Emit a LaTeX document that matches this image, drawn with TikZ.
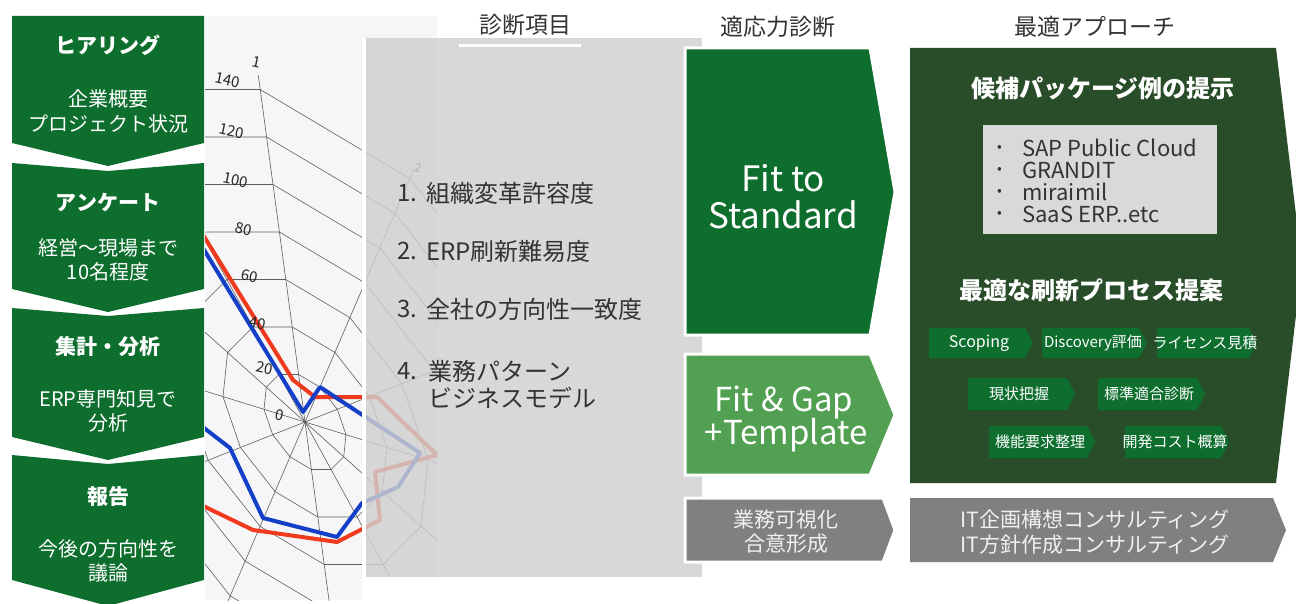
\documentclass[tikz,border=0pt]{standalone}
\usepackage{fontspec}
\setmainfont{Noto Sans CJK JP}
\definecolor{gMain}{HTML}{0E6E2E}
\definecolor{gDark}{HTML}{294D29}
\definecolor{gLight}{HTML}{52A052}
\definecolor{greyArr}{HTML}{808080}
\definecolor{panelC}{HTML}{D0D0D0}
\definecolor{pkgC}{HTML}{D9D9D9}
\definecolor{txtC}{HTML}{333333}
\definecolor{photoC}{HTML}{F6F6F8}
\definecolor{webC}{HTML}{5E5E5E}
\definecolor{redL}{HTML}{F03A1E}
\definecolor{blueL}{HTML}{1440C8}
\newcommand\fsz[1]{\fontsize{#1}{#1}\selectfont}
\begin{document}
\begin{tikzpicture}[x=1pt,y=-1pt,
  wt/.style={text=white, inner sep=0pt, align=center},
  tt/.style={text=txtC, inner sep=0pt, font=\fsz{23}},
  lst/.style={text=txtC, inner sep=0pt, anchor=west, font=\fsz{24}},
  web/.style={draw=webC, line width=0.6pt},
  lbl/.style={text=black!85, inner sep=0pt, font=\fsz{15}, rotate=-12},
  dataln/.style={line width=4pt, line join=round},
  chev/.style={fill=gMain},
  ctext/.style={text=white, inner sep=0pt, font=\fsz{15}},
  bul/.style={text=txtC, inner sep=0pt, anchor=west, font=\fsz{22}}]
\useasboundingbox (0,0) rectangle (1296,604);
\fill[white] (0,0) rectangle (1296,604);

% ---------- radar chart photo ----------
\begin{scope}
  \clip (205,16) rectangle (437,600);
  \fill[photoC] (205,16) rectangle (437,600);
  \begin{scope}[shift={(305,422)}, x={(41pt,-12.7pt)}, y={(-6.4pt,47.5pt)}]
    \foreach \i in {1,...,7} {
      \draw[web] (0,\i) \foreach \k in {1,...,11} { -- ({\i*cos(90-30*\k)},{\i*sin(90-30*\k)}) } -- cycle;
    }
    \foreach \k in {0,...,11} \draw[web] (0,0) -- ({7.3*cos(90-30*\k)},{7.3*sin(90-30*\k)});
  \end{scope}
  \draw[dataln, redL] (195,222) -- (293,380) -- (315,397) -- (377,397) -- (437,455) -- (375,472) -- (380,520) -- (337,542) -- (253,530) -- (195,502);
  \draw[dataln, blueL] (195,235) -- (303,412) -- (320,387) -- (420,453) -- (398,487) -- (362,503) -- (337,537) -- (263,518) -- (230,448) -- (195,421);
  \node[lbl] (s140) at (228,80) {140};
  \node[lbl] (s120) at (232,131) {120};
  \node[lbl] (s100) at (236,180) {100};
  \node[lbl] (s80) at (244,229) {80};
  \node[lbl] (s60) at (250,276) {60};
  \node[lbl] (s40) at (258,323) {40};
  \node[lbl] (s20) at (265,368) {20};
  \node[lbl] (s0) at (280,415) {0};
  \node[lbl] (ax1) at (257,62) {1};
  \node[lbl, font=\fsz{12}] (ax2) at (418,168) {2};
\end{scope}
\fill[white] (362,38) rectangle (366,600);
\fill[white] (366,577) rectangle (440,604);

% ---------- grey panel (diagnosis items) ----------
\fill[panelC, fill opacity=0.82] (366,38) rectangle (702,577);
\draw[white, line width=3pt] (459,46) -- (581,46);
\node[tt] (t1) at (525,25) {診断項目};
\node[tt] (t2) at (778,27) {適応力診断};
\node[tt] (t3) at (1095,27) {最適アプローチ};

\node[lst] (n1) at (397,193) {1.};
\node[lst] (l1) at (426,193) {組織変革許容度};
\node[lst] (n2) at (397,251) {2.};
\node[lst] (l2) at (426,251) {ERP刷新難易度};
\node[lst] (n3) at (397,309) {3.};
\node[lst] (l3) at (426,309) {全社の方向性一致度};
\node[lst] (n4) at (397,371) {4.};
\node[lst] (l4) at (428,371) {業務パターン};
\node[lst] (l4b) at (428,398) {ビジネスモデル};

% ---------- left process chevrons ----------
\fill[gMain] (12,16) -- (204,16) -- (204,143) -- (108,166) -- (12,143) -- cycle;
\fill[gMain] (12,163) -- (108,171) -- (204,163) -- (204,289) -- (108,312) -- (12,289) -- cycle;
\fill[gMain] (12,308) -- (108,316) -- (204,308) -- (204,437) -- (108,460) -- (12,437) -- cycle;
\fill[gMain] (12,455) -- (108,464) -- (204,455) -- (204,580) -- (108,606) -- (12,580) -- cycle;
\node[wt, font=\fsz{21}\bfseries] (b1h) at (108,45) {ヒアリング};
\node[wt, font=\fsz{20}] (b1a) at (108,99) {企業概要};
\node[wt, font=\fsz{20}] (b1b) at (108,124) {プロジェクト状況};
\node[wt, font=\fsz{21}\bfseries] (b2h) at (108,203) {アンケート};
\node[wt, font=\fsz{20}] (b2a) at (108,248) {経営～現場まで};
\node[wt, font=\fsz{20}] (b2b) at (108,272) {10名程度};
\node[wt, font=\fsz{21}\bfseries] (b3h) at (108,347) {集計・分析};
\node[wt, font=\fsz{20}] (b3a) at (108,399) {ERP専門知見で};
\node[wt, font=\fsz{20}] (b3b) at (108,423) {分析};
\node[wt, font=\fsz{21}\bfseries] (b4h) at (108,497) {報告};
\node[wt, font=\fsz{20}] (b4a) at (108,549) {今後の方向性を};
\node[wt, font=\fsz{20}] (b4b) at (108,573) {議論};

% ---------- middle arrows ----------
\filldraw[fill=gMain, draw=white, line width=3pt, line join=miter] (685,48) -- (870,48) -- (895,192) -- (870,335) -- (685,335) -- cycle;
\filldraw[fill=gLight, draw=white, line width=3pt] (685,354) -- (870,354) -- (895,415) -- (870,475) -- (685,475) -- cycle;
\filldraw[fill=greyArr, draw=white, line width=3pt] (685,498) -- (883,498) -- (895,530) -- (883,562) -- (685,562) -- cycle;
\node[wt, font=\fsz{35}] (fs1) at (783,178) {Fit to};
\node[wt, font=\fsz{35}] (fs2) at (783,215) {Standard};
\node[wt, font=\fsz{33}] (fg1) at (784,402) {Fit \& Gap};
\node[wt, font=\fsz{33}] (fg2) at (786,435) {+Template};
\node[wt, font=\fsz{21}, text=white!94!black] (gy1) at (786,520) {業務可視化};
\node[wt, font=\fsz{21}, text=white!94!black] (gy2) at (786,544) {合意形成};

% ---------- right panel ----------
\fill[gDark] (910,48) -- (1276,48) -- (1302,265) -- (1276,483) -- (910,483) -- cycle;
\fill[greyArr] (910,498) -- (1273,498) -- (1286,530) -- (1273,562) -- (910,562) -- cycle;
\node[wt, font=\fsz{21}, text=white!94!black] (it1) at (1095,519) {IT企画構想コンサルティング};
\node[wt, font=\fsz{21}, text=white!94!black] (it2) at (1095,545) {IT方針作成コンサルティング};

\node[wt, font=\fsz{24}\bfseries] (pk) at (1103,88) {候補パッケージ例の提示};
\fill[pkgC] (983,125) rectangle (1217,234);
\node[bul, font=\fsz{14}] (d1) at (997,148) {•};
\node[bul, font=\fsz{14}] (d2) at (997,170) {•};
\node[bul, font=\fsz{14}] (d3) at (997,192) {•};
\node[bul, font=\fsz{14}] (d4) at (997,214) {•};
\node[bul] (p1) at (1022,148) {SAP Public Cloud};
\node[bul] (p2) at (1022,170) {GRANDIT};
\node[bul] (p3) at (1022,192) {miraimil};
\node[bul] (p4) at (1022,214) {SaaS ERP..etc};

\node[wt, font=\fsz{24}\bfseries] (pr) at (1091,290) {最適な刷新プロセス提案};

\fill[chev] (929,328) -- (1025,328) -- (1033,343) -- (1025,358) -- (929,358) -- cycle;
\node[ctext, font=\fsz{16}] (c1) at (979,343) {Scoping};
\fill[chev] (1042,328) -- (1139,328) -- (1147,343) -- (1139,358) -- (1042,358) -- cycle;
\node[ctext] (c2) at (1093,343) {Discovery評価};
\fill[chev] (1157,328) -- (1249,328) -- (1257,343) -- (1249,358) -- (1157,358) -- cycle;
\node[ctext] (c3) at (1205,343) {ライセンス見積};
\fill[chev] (968,378) -- (1067,378) -- (1075,394) -- (1067,410) -- (968,410) -- cycle;
\node[ctext] (c4) at (1019,394) {現状把握};
\fill[chev] (1098,378) -- (1197,378) -- (1205,394) -- (1197,410) -- (1098,410) -- cycle;
\node[ctext] (c5) at (1149,394) {標準適合診断};
\fill[chev] (989,426) -- (1087,426) -- (1095,442) -- (1087,458) -- (989,458) -- cycle;
\node[ctext] (c6) at (1040,442) {機能要求整理};
\fill[chev] (1125,426) -- (1221,426) -- (1229,442) -- (1221,458) -- (1125,458) -- cycle;
\node[ctext] (c7) at (1175,442) {開発コスト概算};
\end{tikzpicture}
\end{document}
